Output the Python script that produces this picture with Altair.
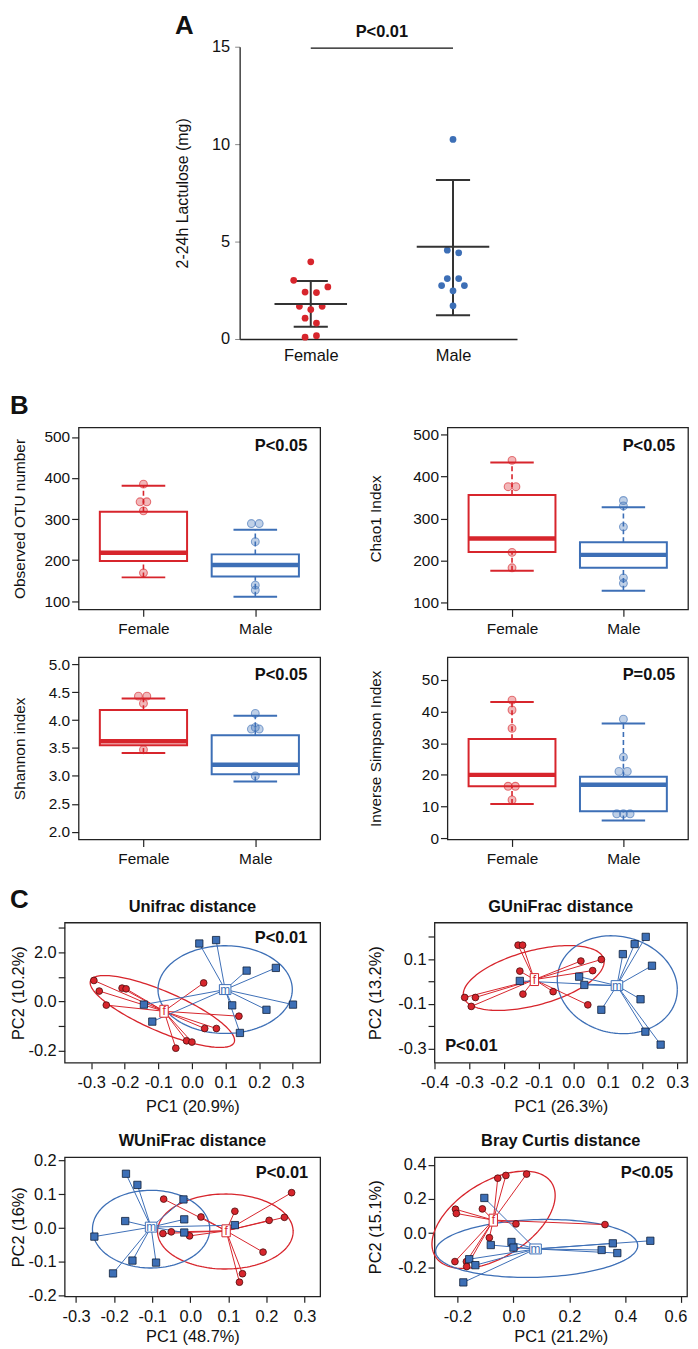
import altair as alt
import pandas as pd

FONT = "Liberation Sans"
RED = "#d7252c"
BLUE = "#3d6fb6"
DARK = "#222222"
EDGE_R = "#4a0d0d"
EDGE_B = "#0f1f3a"

GROUPS = ["Female", "Male"]
CENTROID_LABELS = ["f", "m"]
LETTERS = ["A", "B", "C"]

# ---------------- Panel A ----------------
A_FEMALE = [3.96, 3.01, 2.41, 2.38, 2.67, 1.68, 1.51, 1.68, 1.07, 0.82, 0.09, 0.17]
A_FEMALE_JIT = [0.0, -0.12, -0.04, 0.04, 0.12, -0.08, 0.0, 0.08, -0.04, 0.04, -0.04, 0.04]
A_MALE = [10.24, 4.56, 4.42, 3.10, 3.10, 2.74, 2.74, 2.47, 1.70]
A_MALE_JIT = [0.0, -0.04, 0.04, -0.04, 0.04, -0.08, 0.08, 0.0, 0.0]
A_MEAN = [1.80, 4.73]
A_SD_LO = [0.63, 1.22]
A_SD_HI = [2.98, 8.16]
A_YTICKS = [0, 5, 10, 15]
A_YTITLE = "2-24h Lactulose (mg)"
A_P = "P<0.01"
A_SIG_Y = 14.93
A_P_Y = 15.73

# ---------------- Panel B (wlo, q1, median, q3, whi) ----------------
OTU_F_BOX = [158, 198, 218, 318, 381]
OTU_M_BOX = [111, 160, 188, 214, 274]
OTU_F_PTS = [385, 342, 342, 320, 169]
OTU_F_OFF = [0.0, -0.03, 0.03, 0.0, 0.0]
OTU_M_PTS = [289, 289, 245, 139, 127]
OTU_M_OFF = [-0.035, 0.035, 0.0, 0.0, 0.0]

CHAO_F_BOX = [175, 220, 252, 356, 434]
CHAO_M_BOX = [127, 182, 213, 243, 327]
CHAO_F_PTS = [439, 376, 376, 219, 182]
CHAO_F_OFF = [0.0, -0.035, 0.035, 0.0, 0.0]
CHAO_M_PTS = [343, 330, 280, 158, 145]
CHAO_M_OFF = [0.0, 0.0, 0.0, 0.0, 0.0]

SHAN_F_BOX = [3.41, 3.55, 3.62, 4.18, 4.39]
SHAN_M_BOX = [2.90, 3.03, 3.20, 3.73, 4.08]
SHAN_F_PTS = [4.43, 4.43, 4.30, 3.47]
SHAN_F_OFF = [-0.045, 0.03, 0.0, 0.0]
SHAN_M_PTS = [4.12, 3.84, 3.84, 3.87, 3.00]
SHAN_M_OFF = [0.0, -0.035, 0.035, 0.0, 0.0]

INVS_F_BOX = [10.8, 16.4, 20.0, 31.3, 43.0]
INVS_M_BOX = [5.6, 8.5, 16.9, 19.4, 36.2]
INVS_F_PTS = [43.6, 40.5, 34.7, 16.4, 16.4, 12.1]
INVS_F_OFF = [0.0, 0.0, 0.0, -0.035, 0.03, 0.0]
INVS_M_PTS = [37.6, 25.6, 21.1, 21.1, 7.7, 7.7, 7.7]
INVS_M_OFF = [0.0, 0.0, -0.04, 0.035, -0.06, 0.0, 0.06]

B_TITLES = ["Observed OTU number", "Chao1 Index", "Shannon index", "Inverse Simpson Index"]
B_PVALS = ["P<0.05", "P<0.05", "P<0.05", "P=0.05"]
B_YTICKS = [[100, 200, 300, 400, 500], [100, 200, 300, 400, 500],
            [2.0, 2.5, 3.0, 3.5, 4.0, 4.5, 5.0], [0, 10, 20, 30, 40, 50]]
B_YFMT = ["d", "d", ".1f", "d"]
B_YDOM = [[80, 523], [82.6, 517.6], [1.86, 5.13], [-0.4, 57.2]]

# ---------------- Panel C ----------------
UNI_F_X = [-0.292, -0.276, -0.255, -0.208, -0.196, 0.035, 0.140, 0.038, 0.073, -0.016, 0.000, -0.048]
UNI_F_Y = [0.085, 0.042, -0.015, 0.054, 0.051, 0.075, -0.060, -0.110, -0.110, -0.160, -0.165, -0.190]
UNI_M_X = [0.022, 0.072, 0.163, 0.250, 0.301, 0.222, 0.120, 0.143, -0.143, -0.118]
UNI_M_Y = [0.235, 0.249, 0.125, 0.136, -0.013, -0.034, -0.016, -0.128, -0.013, -0.082]
UNI_CEN = [[-0.083, -0.040], [0.099, 0.048]]
UNI_ELL = [[-0.088, -0.041, 0.215, 0.146, -0.8], [0.099, 0.048, 0.200, 0.178, 0.0]]

GUNI_F_X = [-0.159, -0.146, 0.022, 0.081, -0.154, 0.056, -0.145, -0.058, 0.042, -0.313, -0.282, -0.294]
GUNI_F_Y = [0.163, 0.163, 0.092, 0.099, 0.047, 0.049, -0.056, -0.045, -0.104, -0.071, -0.071, -0.111]
GUNI_M_X = [0.209, 0.177, 0.143, 0.227, 0.194, 0.208, 0.252, 0.081, 0.017, 0.032, -0.154]
GUNI_M_Y = [0.200, 0.168, 0.123, 0.071, -0.079, -0.224, -0.282, -0.126, 0.022, -0.015, 0.003]
GUNI_CEN = [[-0.112, 0.009], [0.126, -0.018]]
GUNI_ELL = [[-0.114, 0.016, 0.203, 0.145, 0.5], [0.127, -0.014, 0.173, 0.219, -0.1]]

WUNI_F_X = [-0.070, 0.028, -0.072, -0.050, -0.002, 0.117, 0.207, 0.247, 0.266, 0.191, 0.137, 0.129]
WUNI_F_Y = [0.086, 0.033, -0.016, -0.011, -0.023, 0.050, 0.023, 0.032, 0.105, -0.071, -0.135, -0.160]
WUNI_M_X = [-0.169, -0.139, -0.171, -0.252, -0.203, -0.152, -0.090, -0.018, -0.016, -0.016, 0.117]
WUNI_M_Y = [0.161, 0.128, 0.021, -0.025, -0.134, -0.096, -0.102, 0.085, 0.026, -0.013, 0.009]
WUNI_CEN = [[0.094, -0.008], [-0.103, 0.003]]
WUNI_ELL = [[0.092, -0.010, 0.178, 0.111, 0.0], [-0.103, -0.003, 0.154, 0.115, 0.0]]

BRAY_F_X = [-0.056, -0.027, 0.047, -0.111, -0.207, -0.204, 0.009, -0.086, 0.327, -0.209, -0.168, -0.167]
BRAY_F_Y = [0.322, 0.338, 0.346, 0.142, 0.140, 0.115, 0.054, -0.027, 0.050, -0.167, -0.167, -0.196]
BRAY_M_X = [-0.104, -0.081, -0.007, 0.000, -0.158, -0.136, -0.179, 0.315, 0.355, 0.371, 0.489]
BRAY_M_Y = [0.206, -0.070, -0.052, -0.085, -0.153, -0.188, -0.289, -0.099, -0.060, -0.117, -0.045]
BRAY_CEN = [[-0.072, 0.076], [0.079, -0.093]]
BRAY_ELL = [[-0.071, 0.078, 0.220, 0.285, 0.5], [0.083, -0.090, 0.361, 0.170, 0.1]]

C_TITLES = ["Unifrac distance", "GUniFrac distance", "WUniFrac distance", "Bray Curtis distance"]
C_XTITLES = ["PC1 (20.9%)", "PC1 (26.3%)", "PC1 (48.7%)", "PC1 (21.2%)"]
C_YTITLES = ["PC2 (10.2%)", "PC2 (13.2%)", "PC2 (16%)", "PC2 (15.1%)"]
C_PVALS = ["P<0.01", "P<0.01", "P<0.01", "P<0.05"]

UNI_XTICKS = [-0.3, -0.2, -0.1, 0.0, 0.1, 0.2, 0.3]
UNI_XLABELS = ["-0.3", "-0.2", "-0.1", "0.0", "0.1", "0.2", "0.3"]
UNI_YTICKS = [-0.2, -0.1, 0.0, 0.1, 0.2, 0.3]
UNI_YLABELS = ["-0.2", "", "0.0", "", "2.0", ""]
GUNI_XTICKS = [-0.4, -0.3, -0.2, -0.1, 0.0, 0.1, 0.2, 0.3]
GUNI_XLABELS = ["-0.4", "-0.3", "-0.2", "-0.1", "0.0", "0.1", "0.2", "0.3"]
GUNI_YTICKS = [-0.3, -0.2, -0.1, 0.0, 0.1, 0.2]
GUNI_YLABELS = ["-0.3", "", "-0.1", "", "0.1", ""]
WUNI_XTICKS = [-0.3, -0.2, -0.1, 0.0, 0.1, 0.2, 0.3]
WUNI_XLABELS = ["-0.3", "-0.2", "-0.1", "0.0", "0.1", "0.2", "0.3"]
WUNI_YTICKS = [-0.2, -0.1, 0.0, 0.1, 0.2]
WUNI_YLABELS = ["-0.2", "-0.1", "0.0", "0.1", "0.2"]
BRAY_XTICKS = [-0.2, 0.0, 0.2, 0.4, 0.6]
BRAY_XLABELS = ["-0.2", "0.0", "0.2", "0.4", "0.6"]
BRAY_YTICKS = [-0.2, 0.0, 0.2, 0.4]
BRAY_YLABELS = ["-0.2", "0.0", "0.2", "0.4"]

CSCALE = alt.Scale(domain=GROUPS, range=[RED, BLUE])
F_BOX_PATH = "M-0.7,-1L0.7,-1L0.7,1L-0.7,1Z"
M_BOX_PATH = "M-1.16,-1L1.16,-1L1.16,1L-1.16,1Z"


def label_expr(ticks, labels):
    parts = [f"abs(datum.value - ({v})) < 0.000001 ? '{l}'" for v, l in zip(ticks, labels)]
    return " : ".join(parts) + " : ''"


def bounds_layer(L, T, W, H, R, B):
    return alt.Chart(pd.DataFrame({"k": [0]})).mark_rule(strokeOpacity=0, strokeWidth=0).encode(
        x=alt.value(-L), x2=alt.value(W + R), y=alt.value(-T), y2=alt.value(H + B))


def spacer():
    # a 1x1 empty cell so that every row starts at the same left edge
    return alt.Chart(pd.DataFrame({"k": [0]})).mark_rule(strokeOpacity=0, strokeWidth=0).encode(
        x=alt.value(0), x2=alt.value(1), y=alt.value(0), y2=alt.value(1)).properties(width=1, height=1)


def text_layer(txt, x, y, size, weight="normal", align="center", color="#111111"):
    return alt.Chart(pd.DataFrame({"label": [txt]})).mark_text(
        font=FONT, fontSize=size, fontWeight=weight, align=align, baseline="middle", color=color
    ).encode(text="label:N", x=alt.value(x), y=alt.value(y))


# ---------------- build panel A ----------------
def panel_a():
    W, H = 279, 294
    L, T, R, B = 232, 34.7, 169, 43.3
    X = alt.X("x:Q", scale=alt.Scale(domain=[0.5, 2.45], nice=False, zero=False),
              axis=alt.Axis(values=[1, 2], labelExpr="datum.value < 1.5 ? 'Female' : 'Male'",
                            ticks=True, tickSize=0, labelPadding=9, labelFontSize=16.5,
                            domain=True, domainColor=DARK, domainWidth=1.3, grid=False, title=None))
    Y = alt.Y("y:Q", scale=alt.Scale(domain=[0, 15], nice=False, zero=False),
              axis=alt.Axis(values=A_YTICKS, format="d", tickSize=5, labelPadding=5, labelFontSize=16.5,
                            domain=True, domainColor=DARK, domainWidth=1.3, grid=False,
                            title=A_YTITLE, titleX=-57, titleY=H / 2, titleAngle=270,
                            titleAlign="center", titleBaseline="middle", titleFontSize=16,
                            titleFontWeight="normal"))
    pts = pd.DataFrame({
        "group": ["Female"] * len(A_FEMALE) + ["Male"] * len(A_MALE),
        "pos": [1] * len(A_FEMALE) + [2] * len(A_MALE),
        "val": A_FEMALE + A_MALE,
        "jit": A_FEMALE_JIT + A_MALE_JIT,
    })
    summ = pd.DataFrame({"group": GROUPS, "pos": [1, 2], "mean": A_MEAN, "lo": A_SD_LO, "hi": A_SD_HI})
    col = alt.Color("group:N", scale=CSCALE, legend=None)
    points = alt.Chart(pts).transform_calculate(x="datum.pos + datum.jit", y="datum.val").mark_circle(
        size=46, opacity=1).encode(x=X, y=Y, color=col)
    base = alt.Chart(summ)
    meanbar = base.transform_calculate(x="datum.pos - 0.255", x2f="datum.pos + 0.255", y="datum.mean").mark_rule(
        color="#333333", strokeWidth=2).encode(x=X, x2="x2f:Q", y=Y)
    vbar = base.transform_calculate(x="datum.pos", y="datum.lo", y2f="datum.hi").mark_rule(
        color="#333333", strokeWidth=2).encode(x=X, y=Y, y2="y2f:Q")
    caplo = base.transform_calculate(x="datum.pos - 0.12", x2f="datum.pos + 0.12", y="datum.lo").mark_rule(
        color="#333333", strokeWidth=2).encode(x=X, x2="x2f:Q", y=Y)
    caphi = base.transform_calculate(x="datum.pos - 0.12", x2f="datum.pos + 0.12", y="datum.hi").mark_rule(
        color="#333333", strokeWidth=2).encode(x=X, x2="x2f:Q", y=Y)
    sig = alt.Chart(pd.DataFrame({"x": [1], "x2f": [2], "y": [A_SIG_Y]})).mark_rule(
        color="#111111", strokeWidth=1.3).encode(x=X, x2="x2f:Q", y=Y)
    ptxt = alt.Chart(pd.DataFrame({"x": [1.5], "y": [A_P_Y], "label": [A_P]})).mark_text(
        font=FONT, fontSize=16.5, fontWeight="bold", baseline="middle", color="#111111").encode(
        x=X, y=Y, text="label:N")
    letter = text_layer(LETTERS[0], -65, -21, 26, "bold", "left")
    return alt.layer(sig, vbar, caplo, caphi, points, meanbar, ptxt, letter,
                     bounds_layer(L, T, W, H, R, B)).properties(width=W, height=H)


# ---------------- build panel B ----------------
def box_panel(idx, f_box, m_box, f_pts, f_off, m_pts, m_off, W, H, L, T, R, B, ytitle_x, p_y, letter=None):
    X = alt.X("x:Q", scale=alt.Scale(domain=[0.42, 2.58], nice=False, zero=False),
              axis=alt.Axis(values=[1, 2], labelExpr="datum.value < 1.5 ? 'Female' : 'Male'",
                            tickSize=7, labelPadding=5, labelFontSize=15.5, domain=False, grid=False,
                            title=None, tickColor=DARK, tickWidth=1.2))
    Y = alt.Y("y:Q", scale=alt.Scale(domain=B_YDOM[idx], nice=False, zero=False),
              axis=alt.Axis(values=B_YTICKS[idx], format=B_YFMT[idx], tickSize=7, labelPadding=2,
                            labelFontSize=15.5, domain=False, grid=False, tickColor=DARK, tickWidth=1.2,
                            title=B_TITLES[idx], titleX=ytitle_x, titleY=H / 2, titleAngle=270,
                            titleAlign="center", titleBaseline="middle", titleFontSize=15.5,
                            titleFontWeight="normal"))
    box = pd.DataFrame({"group": GROUPS, "pos": [1, 2],
                        "wlo": [f_box[0], m_box[0]], "q1": [f_box[1], m_box[1]],
                        "med": [f_box[2], m_box[2]], "q3": [f_box[3], m_box[3]],
                        "whi": [f_box[4], m_box[4]]})
    col = alt.Color("group:N", scale=CSCALE, legend=None)
    base = alt.Chart(box)
    rect = base.transform_calculate(x="datum.pos - 0.39", x2f="datum.pos + 0.39", y="datum.q1",
                                    y2f="datum.q3").mark_rect(fill="white", strokeWidth=2).encode(
        x=X, x2="x2f:Q", y=Y, y2="y2f:Q", stroke=alt.Stroke("group:N", scale=CSCALE, legend=None))
    wup = base.transform_calculate(x="datum.pos", y="datum.q3", y2f="datum.whi").mark_rule(
        strokeWidth=1.6, strokeDash=[5, 3]).encode(x=X, y=Y, y2="y2f:Q", color=col)
    wlo = base.transform_calculate(x="datum.pos", y="datum.wlo", y2f="datum.q1").mark_rule(
        strokeWidth=1.6, strokeDash=[5, 3]).encode(x=X, y=Y, y2="y2f:Q", color=col)
    capu = base.transform_calculate(x="datum.pos - 0.195", x2f="datum.pos + 0.195", y="datum.whi").mark_rule(
        strokeWidth=2).encode(x=X, x2="x2f:Q", y=Y, color=col)
    capl = base.transform_calculate(x="datum.pos - 0.195", x2f="datum.pos + 0.195", y="datum.wlo").mark_rule(
        strokeWidth=2).encode(x=X, x2="x2f:Q", y=Y, color=col)
    med = base.transform_calculate(x="datum.pos - 0.39", x2f="datum.pos + 0.39", y="datum.med").mark_rule(
        strokeWidth=4.5).encode(x=X, x2="x2f:Q", y=Y, color=col)
    pts = pd.DataFrame({"group": ["Female"] * len(f_pts) + ["Male"] * len(m_pts),
                        "pos": [1] * len(f_pts) + [2] * len(m_pts),
                        "val": f_pts + m_pts, "off": f_off + m_off})
    points = alt.Chart(pts).transform_calculate(x="datum.pos + datum.off", y="datum.val").mark_point(
        shape="circle", filled=True, size=62, opacity=1, fillOpacity=0.33, strokeOpacity=0.6,
        strokeWidth=1.1).encode(
        x=X, y=Y, fill=alt.Fill("group:N", scale=CSCALE, legend=None),
        stroke=alt.Stroke("group:N", scale=CSCALE, legend=None))
    layers = [rect, wup, wlo, capu, capl, med, points,
              text_layer(B_PVALS[idx], W - 13, p_y, 16.5, "bold", "right")]
    if letter is not None:
        layers.append(text_layer(letter[0], letter[1], letter[2], 26, "bold", "left"))
    layers.append(bounds_layer(L, T, W, H, R, B))
    return alt.layer(*layers).properties(width=W, height=H,
                                         view=alt.ViewBackground(stroke=DARK, strokeWidth=1.3))


# ---------------- build panel C ----------------
def pcoa_panel(idx, xdom, ydom, xt, xl, yt, yl, fx, fy, mx, my, cen, ell,
               W, H, L, T, R, B, ytitle_x, xtitle_y, p_spec, letter=None, edge_shift=0):
    X = alt.X("x:Q", scale=alt.Scale(domain=xdom, nice=False, zero=False),
              axis=alt.Axis(values=xt, labelExpr=label_expr(xt, xl), tickSize=6, labelPadding=6,
                            labelFontSize=16.5, domain=False, grid=False, tickColor=DARK, tickWidth=1.2,
                            labelFlush=False, labelOverlap=False,
                            labelOffset=alt.condition(f"datum.value > {xt[-1] - 0.001}",
                                                      alt.value(edge_shift), alt.value(0)),
                            title=C_XTITLES[idx], titleX=W / 2, titleY=xtitle_y, titleAlign="center",
                            titleBaseline="middle", titleFontSize=16.5, titleFontWeight="normal"))
    Y = alt.Y("y:Q", scale=alt.Scale(domain=ydom, nice=False, zero=False),
              axis=alt.Axis(values=yt, labelExpr=label_expr(yt, yl), tickSize=6.5, labelPadding=2,
                            labelFontSize=16.5, domain=False, grid=False, tickColor=DARK, tickWidth=1.2,
                            labelFlush=False, labelOverlap=False,
                            title=C_YTITLES[idx], titleX=ytitle_x, titleY=H / 2, titleAngle=270,
                            titleAlign="center", titleBaseline="middle", titleFontSize=16.5,
                            titleFontWeight="normal"))
    col = alt.Color("group:N", scale=CSCALE, legend=None)
    layers = []
    for e, c in zip(ell, [RED, BLUE]):
        cx, cy, sx, sy, rho = e
        layers.append(alt.Chart(alt.sequence(0, 6.36, 0.04, as_="t")).transform_calculate(
            x=f"{cx} + {sx} * cos(datum.t)", y=f"{cy} + {sy} * cos(datum.t - acos({rho}))"
        ).mark_line(color=c, strokeWidth=1.3).encode(x=X, y=Y, order="t:Q"))
    spid = pd.DataFrame({
        "x": fx + mx, "y": fy + my,
        "cx": [cen[0][0]] * len(fx) + [cen[1][0]] * len(mx),
        "cy": [cen[0][1]] * len(fx) + [cen[1][1]] * len(mx),
        "group": ["Female"] * len(fx) + ["Male"] * len(mx)})
    layers.append(alt.Chart(spid).mark_rule(strokeWidth=1).encode(x=X, y=Y, x2="cx:Q", y2="cy:Q", color=col))
    layers.append(alt.Chart(pd.DataFrame({"x": fx, "y": fy})).mark_point(
        shape="circle", filled=True, fill=RED, stroke=EDGE_R, strokeWidth=0.8, size=46, opacity=1
    ).encode(x=X, y=Y))
    layers.append(alt.Chart(pd.DataFrame({"x": mx, "y": my})).mark_point(
        shape="square", filled=True, fill=BLUE, stroke=EDGE_B, strokeWidth=0.8, size=54, opacity=1
    ).encode(x=X, y=Y))
    for (cxy, c, path, sz, lab) in zip(cen, [RED, BLUE], [F_BOX_PATH, M_BOX_PATH], [144, 100], CENTROID_LABELS):
        cdf = pd.DataFrame({"x": [cxy[0]], "y": [cxy[1]], "lab": [lab]})
        layers.append(alt.Chart(cdf).mark_point(shape=path, filled=True, fill="white", stroke=c,
                                                strokeWidth=1, size=sz, opacity=1).encode(x=X, y=Y))
        layers.append(alt.Chart(cdf).mark_text(font=FONT, fontSize=12, color=c, baseline="middle").encode(
            x=X, y=Y, text="lab:N"))
    layers.append(text_layer(C_TITLES[idx], W / 2, -16, 16.5, "bold", "center"))
    layers.append(text_layer(C_PVALS[idx], p_spec[0], p_spec[1], 16.5, "bold", p_spec[2]))
    if letter is not None:
        layers.append(text_layer(letter[0], letter[1], letter[2], 26, "bold", "left"))
    layers.append(bounds_layer(L, T, W, H, R, B))
    return alt.layer(*layers).properties(width=W, height=H,
                                         view=alt.ViewBackground(stroke=DARK, strokeWidth=1.3))


rowA = panel_a()

b1 = box_panel(0, OTU_F_BOX, OTU_M_BOX, OTU_F_PTS, OTU_F_OFF, OTU_M_PTS, OTU_M_OFF,
               243, 183, 69, 44.3, 31, 32.7, -59.5, 19, letter=(LETTERS[1], -69, -22))
b2 = box_panel(1, CHAO_F_BOX, CHAO_M_BOX, CHAO_F_PTS, CHAO_F_OFF, CHAO_M_PTS, CHAO_M_OFF,
               242, 183, 95, 44.3, 0, 32.7, -72.5, 19)
b3 = box_panel(2, SHAN_F_BOX, SHAN_M_BOX, SHAN_F_PTS, SHAN_F_OFF, SHAN_M_PTS, SHAN_M_OFF,
               243, 183.4, 69, 13.3, 31, 33.3, -59.5, 18.4)
b4 = box_panel(3, INVS_F_BOX, INVS_M_BOX, INVS_F_PTS, INVS_F_OFF, INVS_M_PTS, INVS_M_OFF,
               242, 183.4, 95, 13.3, 0, 33.3, -72.5, 18.4)

c1 = pcoa_panel(0, [-0.379, 0.382], [-0.249, 0.320], UNI_XTICKS, UNI_XLABELS, UNI_YTICKS, UNI_YLABELS,
                UNI_F_X, UNI_F_Y, UNI_M_X, UNI_M_Y, UNI_CEN, UNI_ELL,
                257, 141, 55, 48, 31, 56, -46.7, 44, (244, 16, "right"), letter=(LETTERS[2], -55, -23))
c2 = pcoa_panel(1, [-0.4, 0.328], [-0.363, 0.264], GUNI_XTICKS, GUNI_XLABELS, GUNI_YTICKS, GUNI_YLABELS,
                GUNI_F_X, GUNI_F_Y, GUNI_M_X, GUNI_M_Y, GUNI_CEN, GUNI_ELL,
                254, 141, 82, 48, 0, 56, -59, 44, (10.7, 124.3, "left"))
c3 = pcoa_panel(2, [-0.330, 0.341], [-0.202, 0.210], WUNI_XTICKS, WUNI_XLABELS, WUNI_YTICKS, WUNI_YLABELS,
                WUNI_F_X, WUNI_F_Y, WUNI_M_X, WUNI_M_Y, WUNI_CEN, WUNI_ELL,
                257, 140, 55, 37, 31, 48.5, -46.7, 40, (245, 16.3, "right"))
c4 = pcoa_panel(3, [-0.282, 0.620], [-0.371, 0.445], BRAY_XTICKS, BRAY_XLABELS, BRAY_YTICKS, BRAY_YLABELS,
                BRAY_F_X, BRAY_F_Y, BRAY_M_X, BRAY_M_Y, BRAY_CEN, BRAY_ELL,
                254, 140, 82, 37, 0, 48.5, -59, 40, (240, 16, "right"), edge_shift=-6)

chart = alt.vconcat(
    alt.hconcat(spacer(), rowA, spacing=0),
    alt.hconcat(spacer(), b1, b2, spacing=0),
    alt.hconcat(spacer(), b3, b4, spacing=0),
    alt.hconcat(spacer(), c1, c2, spacing=0),
    alt.hconcat(spacer(), c3, c4, spacing=0),
    spacing=0,
).properties(padding=0).configure_view(stroke=None).configure_axis(
    labelFont=FONT, titleFont=FONT, labelColor="#111111", titleColor="#111111",
    grid=False, labelFlush=False
).configure_text(font=FONT)

chart.save("out.html", embed_options={"renderer": "svg", "actions": False})
